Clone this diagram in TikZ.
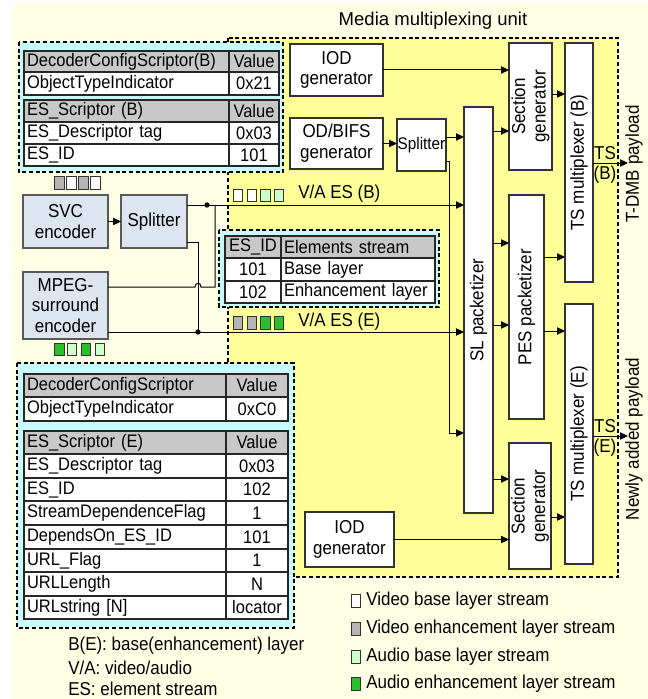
\documentclass[tikz,border=0pt]{standalone}
\usepackage{fontspec}
\setmainfont{Liberation Sans}
\newfontfamily\cfont{Liberation Sans}[FakeStretch=0.91]
\usetikzlibrary{arrows.meta,calc}
\definecolor{bgy}{HTML}{FFFFE6}
\definecolor{yel}{HTML}{FFFF9A}
\definecolor{cyanc}{HTML}{C8FCFC}
\definecolor{hdr}{HTML}{C8C8C8}
\definecolor{boxblue}{HTML}{DDE5F1}
\definecolor{lgrn}{HTML}{CCFFCC}
\definecolor{grn}{HTML}{2DBE2D}
\definecolor{gsq}{HTML}{B4B4B4}
\newcommand\mfont{\cfont\fontsize{14pt}{15.5pt}\selectfont}
\newcommand\tfont{\cfont\fontsize{13.6pt}{15pt}\selectfont}
\newcommand\bx[7]{\node[#2,minimum width={(#5-#3)*0.75pt},minimum height={(#6-#4)*0.75pt}] (#1) at ({(#3+#5)/2},{(#4+#6)/2}) {#7};}
\newcommand\cell[8]{\pgfmathsetlengthmacro\tw{(#4-#2-6)*0.75pt}\node[cellst,fill=#6,align=#7,text width=\tw,minimum height={(#5-#3)*0.75pt}] (#1) at ({(#2+#4)/2},{(#3+#5)/2}) {#8};}
\newcommand\sqr[4]{\node[sqst,fill=#4] (#1) at (#2,#3) {};}
\begin{document}
\begin{tikzpicture}[x=0.75pt,y=-0.75pt,
 blk/.style={draw=black!80,line width=0.8pt,fill=white,inner sep=0pt,outer sep=0pt,align=center,font=\mfont},
 blu/.style={blk,fill=boxblue,draw=black!65},
 cellst/.style={draw=black!85,line width=0.9pt,inner xsep=2.25pt,inner ysep=0pt,outer sep=0pt,font=\tfont},
 dashbox/.style={draw=black,line width=1pt,dash pattern=on 3pt off 2pt},
 arr/.style={draw=black,line width=0.75pt,-{Triangle[length=6pt,width=5.5pt]}},
 ln/.style={draw=black,line width=0.75pt},
 sqst/.style={draw=black!80,line width=0.6pt,inner sep=0pt,minimum width=7.2pt,minimum height=9.5pt},
 lbl/.style={inner sep=0pt,font=\mfont},
 rlbl/.style={inner sep=0pt,font=\mfont,rotate=90,align=center},
 dotst/.style={circle,fill=black,inner sep=0pt,minimum size=4pt},
]
\useasboundingbox (0,0) rectangle (648,699);
\fill[bgy] (12,4) rectangle (648,699);
% media multiplexing region
\draw[dashbox,fill=yel] (228,38) rectangle (618,577);
\node[inner sep=0pt,font=\fontsize{13.9pt}{16pt}\selectfont] (mmu) at (433,21) {Media multiplexing unit};
% cyan boxes
\draw[dashbox,fill=cyanc] (19,42) rectangle (283,172);
\draw[dashbox,fill=cyanc] (219,230) rectangle (439,307);
\draw[dashbox,fill=cyanc] (17,363) rectangle (294,628);
% top tables
\cell{a1}{24}{51}{229}{72}{hdr}{left}{DecoderConfigScriptor(B)}
\cell{a2}{229}{51}{279}{72}{hdr}{center}{Value}
\cell{a3}{24}{72}{229}{95}{white}{left}{ObjectTypeIndicator}
\cell{a4}{229}{72}{279}{95}{white}{center}{0x21}
\cell{b1}{24}{100}{229}{122}{hdr}{left}{ES\_Scriptor (B)}
\cell{b2}{229}{100}{279}{122}{hdr}{center}{Value}
\cell{b3}{24}{122}{229}{144}{white}{left}{ES\_Descriptor tag}
\cell{b4}{229}{122}{279}{144}{white}{center}{0x03}
\cell{b5}{24}{144}{229}{166}{white}{left}{ES\_ID}
\cell{b6}{229}{144}{279}{166}{white}{center}{101}
% ES ID table
\cell{e1}{225}{236}{281}{258}{hdr}{center}{ES\_ID}
\cell{e2}{281}{236}{435}{258}{hdr}{left}{Elements stream}
\cell{e3}{225}{258}{281}{281}{white}{center}{101}
\cell{e4}{281}{258}{435}{281}{white}{left}{Base layer}
\cell{e5}{225}{281}{281}{303}{white}{center}{102}
\cell{e6}{281}{281}{435}{303}{white}{left}{Enhancement layer}
% bottom tables
\cell{c1}{24}{374}{226}{397}{hdr}{left}{DecoderConfigScriptor}
\cell{c2}{226}{374}{288}{397}{hdr}{center}{Value}
\cell{c3}{24}{397}{226}{421}{white}{left}{ObjectTypeIndicator}
\cell{c4}{226}{397}{288}{421}{white}{center}{0xC0}
\cell{d1}{24}{431}{226}{454}{hdr}{left}{ES\_Scriptor (E)}
\cell{d2}{226}{431}{288}{454}{hdr}{center}{Value}
\cell{d3}{24}{454}{226}{478}{white}{left}{ES\_Descriptor tag}
\cell{d4}{226}{454}{288}{478}{white}{center}{0x03}
\cell{d5}{24}{478}{226}{501}{white}{left}{ES\_ID}
\cell{d6}{226}{478}{288}{501}{white}{center}{102}
\cell{d7}{24}{501}{226}{525}{white}{left}{StreamDependenceFlag}
\cell{d8}{226}{501}{288}{525}{white}{center}{1}
\cell{d9}{24}{525}{226}{549}{white}{left}{DependsOn\_ES\_ID}
\cell{d10}{226}{525}{288}{549}{white}{center}{101}
\cell{d11}{24}{549}{226}{572}{white}{left}{URL\_Flag}
\cell{d12}{226}{549}{288}{572}{white}{center}{1}
\cell{d13}{24}{572}{226}{596}{white}{left}{URLLength}
\cell{d14}{226}{572}{288}{596}{white}{center}{N}
\cell{d15}{24}{596}{226}{619}{white}{left}{URLstring [N]}
\cell{d16}{226}{596}{288}{619}{white}{center}{locator}
% blocks
\bx{svc}{blu}{23}{195}{108}{248}{SVC\\encoder}
\bx{spl1}{blu}{121}{195}{187}{248}{Splitter}
\bx{mpeg}{blu}{23}{272}{108}{339}{MPEG-\\surround\\encoder}
\bx{iod1}{blk}{290}{44}{383}{96}{IOD\\generator}
\bx{od}{blk}{290}{118}{383}{169}{OD/BIFS\\generator}
\bx{spl2}{blk,font=\cfont\fontsize{12.6pt}{13pt}\selectfont}{397}{119}{446}{171}{Splitter}
\bx{sl}{blk}{464}{107}{493}{513}{}
\bx{sec1}{blk}{509}{43}{552}{170}{}
\bx{pes}{blk}{509}{195}{544}{419}{}
\bx{tsb}{blk}{565}{43}{593}{282}{}
\bx{tse}{blk}{565}{304}{593}{564}{}
\bx{sec2}{blk}{509}{443}{551}{569}{}
\bx{iod2}{blk}{305}{512}{394}{567}{IOD\\generator}
\node[rlbl] (slt) at (sl.center) {SL packetizer};
\node[rlbl] (sec1t) at (sec1.center) {Section\\generator};
\node[rlbl] (pest) at (pes.center) {PES packetizer};
\node[rlbl] (tsbt) at (tsb.center) {TS multiplexer (B)};
\node[rlbl] (tset) at (tse.center) {TS multiplexer (E)};
\node[rlbl] (sec2t) at (sec2.center) {Section\\generator};
% squares
\sqr{s1}{59.5}{183}{gsq}\sqr{s2}{71.5}{183}{white}\sqr{s3}{83.5}{183}{gsq}\sqr{s4}{95.5}{183}{white}
\sqr{m1}{59.5}{349.5}{grn}\sqr{m2}{72}{349.5}{lgrn}\sqr{m3}{86}{349.5}{grn}\sqr{m4}{100}{349.5}{lgrn}
\sqr{vb1}{238}{195.5}{white}\sqr{vb2}{251.7}{195.5}{white}\sqr{vb3}{265.5}{195.5}{lgrn}\sqr{vb4}{279}{195.5}{lgrn}
\sqr{ve1}{238}{323}{gsq}\sqr{ve2}{251.7}{323}{gsq}\sqr{ve3}{265.5}{323}{grn}\sqr{ve4}{279}{323}{grn}
\node[lbl,anchor=west] (vab) at (298,194) {V/A ES (B)};
\node[lbl,anchor=west] (vae) at (298,322) {V/A ES (E)};
% helper coordinates
\coordinate (c205) at (0,205);\coordinate (c242) at (0,242);\coordinate (c287) at (0,287);
\coordinate (c332) at (0,332);\coordinate (c137) at (0,137);\coordinate (c161) at (0,161);
\coordinate (c433) at (0,433);\coordinate (c131) at (0,131);\coordinate (c94) at (0,94);
\coordinate (c243) at (0,243);\coordinate (c325) at (0,325);\coordinate (c257) at (0,257);
\coordinate (c331) at (0,331);\coordinate (c479) at (0,479);\coordinate (c517) at (0,517);
\coordinate (c163) at (0,163);\coordinate (c436) at (0,436);
\coordinate (j1) at (215,205);
\coordinate (outb) at (628,163);
\coordinate (oute) at (628,436);
\node[dotst] (dt1) at (207,205) {};
\node[dotst] (dt2) at (198,332) {};
% connectors
\draw[arr] (svc) -- (spl1);
\draw[arr] (spl1.east |- c205) -- (sl.west |- c205);
\draw[ln] (mpeg.east |- c287) -- (195,287) .. controls (195,282) and (201,282) .. (201,287) -- (215,287) -- (j1);
\draw[ln] (spl1.east |- c242) -- (198,242) -- (dt2.center);
\draw[arr] (mpeg.east |- c332) -- (sl.west |- c332);
\draw[arr] (iod1.east) -- (iod1.east -| sec1.west);
\draw[arr] (od.east) -- (od.east -| spl2.west);
\draw[arr] (spl2.east |- c137) -- (sl.west |- c137);
\draw[arr] (spl2.east |- c161) -- (449,161) -- (449,433) -- (sl.west |- c433);
\draw[arr] (sl.east |- c131) -- (sec1.west |- c131);
\draw[arr] (sec1.east |- c94) -- (tsb.west |- c94);
\draw[arr] (sl.east |- c243) -- (pes.west |- c243);
\draw[arr] (sl.east |- c325) -- (pes.west |- c325);
\draw[arr] (pes.east |- c257) -- (tsb.west |- c257);
\draw[arr] (pes.east |- c331) -- (tse.west |- c331);
\draw[arr] (sl.east |- c479) -- (sec2.west |- c479);
\draw[arr] (iod2.east) -- (iod2.east -| sec2.west);
\draw[arr] (sec2.east |- c517) -- (tse.west |- c517);
\draw[arr] (tsb.east |- c163) -- (outb);
\draw[arr] (tse.east |- c436) -- (oute);
\node[lbl] (tsb1) at (605,153) {TS};
\node[lbl] (tsb2) at (605,175) {(B)};
\node[lbl] (tse1) at (605,426) {TS};
\node[lbl] (tse2) at (605,448) {(E)};
\node[rlbl] (tdmb) at (634,164) {T-DMB payload};
\node[rlbl] (newp) at (634,439) {Newly added payload};
% legend
\sqr{l1}{356}{601}{white}\sqr{l2}{356}{629}{gsq}\sqr{l3}{356}{657}{lgrn}\sqr{l4}{356}{684}{grn}
\node[lbl,anchor=west] (lt1) at (366,601) {Video base layer stream};
\node[lbl,anchor=west] (lt2) at (366,629) {Video enhancement layer stream};
\node[lbl,anchor=west] (lt3) at (366,657) {Audio base layer stream};
\node[lbl,anchor=west] (lt4) at (366,684) {Audio enhancement layer stream};
% notes
\node[lbl,anchor=west] (n1) at (68,646) {B(E): base(enhancement) layer};
\node[lbl,anchor=west] (n2) at (68,668) {V/A: video/audio};
\node[lbl,anchor=west] (n3) at (68,689) {ES: element stream};
\end{tikzpicture}
\end{document}
